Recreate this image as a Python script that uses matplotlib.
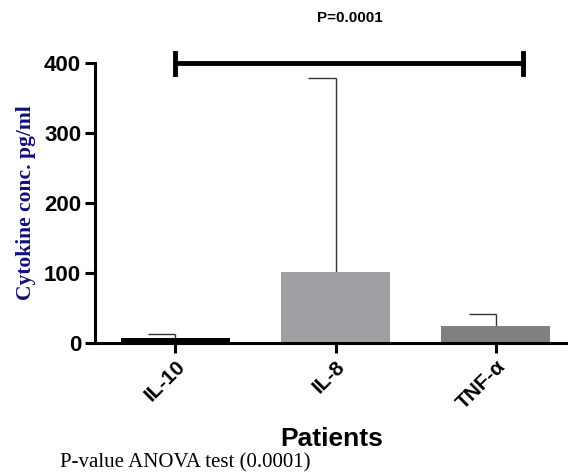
import matplotlib
matplotlib.use('Agg')
import matplotlib.pyplot as plt

# data
cytokines = ['IL-10', 'IL-8', 'TNF-\u03b1']
means = [7, 101, 25]
upper_err = [6, 277, 16]
bar_colors = ['#000000', '#a0a0a4', '#808080']
pvalue_text = 'P=0.0001'
sig_y = 400
sig_from, sig_to = 0, 2.17

fig = plt.figure(figsize=(5.68, 4.74), dpi=100)
ax = fig.add_axes([95 / 568, 131 / 474, 473 / 568, 280 / 474])

x = list(range(len(cytokines)))
ax.bar(x, means, width=0.68, color=bar_colors, zorder=2)

# one-sided error bars with a half cap pointing left (Prism style)
for xi, m, e in zip(x, means, upper_err):
    ax.vlines(xi, m, m + e, color='#333333', lw=1, zorder=1)
    ax.hlines(m + e, xi - 0.17, xi, color='#333333', lw=1, zorder=1)

# significance bar
ax.plot([sig_from, sig_to], [sig_y, sig_y], color='black', lw=3.5, clip_on=False)
for xe in (sig_from, sig_to):
    ax.plot([xe, xe], [sig_y - 15, sig_y + 15], color='black', lw=3.5, clip_on=False)
fig.text(350 / 568, 1 - 18 / 474, pvalue_text, ha='center', va='center',
         fontsize=11, fontweight='bold', family='Liberation Sans')

ax.set_xlim(-0.5, 2.45)
ax.set_ylim(0, 400)
ax.set_yticks([0, 100, 200, 300, 400])
ax.set_xticks(x)
ax.set_xticklabels(cytokines, rotation=45, ha='right', rotation_mode='anchor',
                   fontsize=15, fontweight='bold', family='Liberation Sans')
for lab in ax.get_yticklabels():
    lab.set_fontsize(16)
    lab.set_fontweight('bold')
    lab.set_family('Liberation Sans')

for side in ('top', 'right'):
    ax.spines[side].set_visible(False)
for side in ('left', 'bottom'):
    ax.spines[side].set_linewidth(2.2)
ax.tick_params(axis='both', width=2.2, length=7, pad=3)

ax.set_ylabel('Cytokine conc. pg/ml', fontsize=15.5, fontweight='bold',
              family='Liberation Serif', color='#10107a', labelpad=6)
ax.set_xlabel('Patients', fontsize=19, fontweight='bold', family='Liberation Sans',
              labelpad=10)

fig.text(60 / 568, 1 - 463 / 474, 'P-value ANOVA test (0.0001)', ha='left', va='center',
         fontsize=15, family='Liberation Serif')

fig.savefig('out.png', dpi=100)
